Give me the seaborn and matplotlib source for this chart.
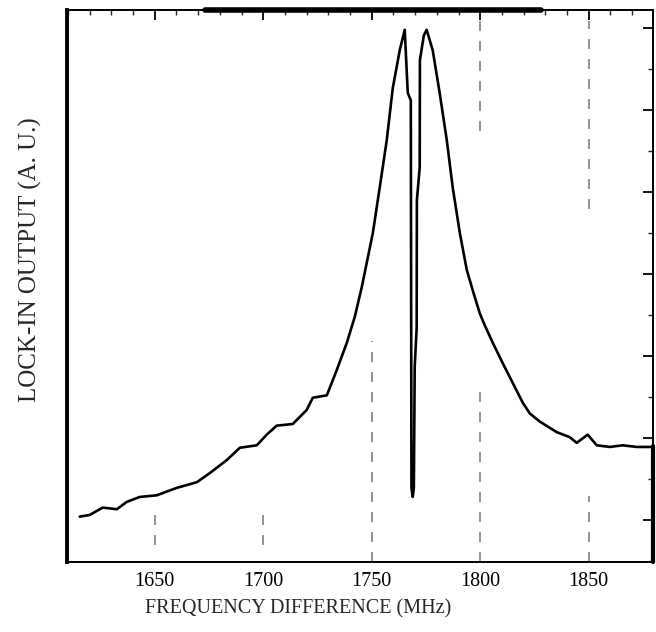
import numpy as np
import pandas as pd
import matplotlib
matplotlib.use("Agg")
import matplotlib.pyplot as plt
import seaborn as sns
from matplotlib.ticker import MultipleLocator

# ---- data (frequency in MHz, lock-in output in arbitrary units)
freq = [1615.4, 1620.0, 1626.0, 1632.5, 1637.1, 1643.1, 1650.9, 1660.1, 1669.4, 1675.3,
        1683.2, 1689.2, 1697.0, 1701.6, 1706.2, 1713.6, 1720.0, 1722.8, 1729.3, 1733.9,
        1738.5, 1742.2, 1745.4, 1750.5, 1753.7, 1756.9, 1759.7, 1762.9, 1765.2,
        1766.6, 1768.0, 1768.3, 1768.9, 1769.4, 1769.8, 1770.7, 1770.8, 1772.1, 1772.2,
        1774.0, 1775.3,
        1778.1, 1781.3, 1784.6, 1787.3, 1790.6, 1793.8, 1797.0, 1799.8, 1802.0, 1805.8,
        1810.4, 1815.0, 1819.6, 1822.8, 1827.4, 1835.3, 1841.2, 1844.5, 1849.5, 1853.7,
        1859.7, 1865.7, 1872.1, 1879.0]
signal = [1.04, 1.06, 1.15, 1.13, 1.22, 1.28, 1.30, 1.39, 1.46, 1.57,
          1.73, 1.88, 1.91, 2.04, 2.15, 2.17, 2.34, 2.49, 2.52, 2.83,
          3.16, 3.48, 3.84, 4.50, 5.06, 5.63, 6.27, 6.73, 6.98,
          6.21, 6.12, 1.39, 1.28, 1.39, 2.87, 3.34, 4.90, 5.30, 6.61,
          6.91, 6.98,
          6.73, 6.21, 5.63, 5.06, 4.50, 4.05, 3.76, 3.52, 3.38, 3.16,
          2.91, 2.67, 2.43, 2.30, 2.20, 2.07, 2.01, 1.94, 2.04, 1.91,
          1.89, 1.91, 1.89, 1.89]

xticks = [1650, 1700, 1750, 1800, 1850]
xticklabels = ["1650", "1700", "1750", "1800", "1850"]
xlabel = "FREQUENCY DIFFERENCE (MHz)"
ylabel = "LOCK-IN OUTPUT (A. U.)"

df = pd.DataFrame({"freq": freq, "signal": signal})

sns.set_theme(style="white")
plt.rcParams["font.family"] = ["Liberation Serif", "DejaVu Serif"]

fig = plt.figure(figsize=(6.56, 6.32), dpi=100)
ax = fig.add_axes([0.102, 0.111, 0.893, 0.873])

sns.lineplot(data=df, x="freq", y="signal", ax=ax, color="black",
             linewidth=1.9, estimator=None, sort=False)

ax.set_xlim(1609.5, 1879.5)
ax.set_ylim(0.488, 7.22)

# faint dashed vertical guide lines (scan residue)
for xv, (y0, y1) in [(1750, (0.0, 0.40)), (1800, (0.0, 0.32)), (1800, (0.78, 0.98)),
                     (1850, (0.0, 0.12)), (1850, (0.64, 0.98)),
                     (1650, (0.03, 0.09)), (1700, (0.03, 0.09))]:
    ax.axvline(xv, ymin=y0, ymax=y1, color="0.5", lw=1.2, ls=(0, (6, 6)), zorder=0)

ax.set_xticks(xticks)
ax.set_xticklabels(xticklabels)
ax.xaxis.set_minor_locator(MultipleLocator(10))
ax.yaxis.set_major_locator(MultipleLocator(1))
ax.yaxis.set_minor_locator(MultipleLocator(0.5))
ax.set_yticklabels([])

ax.tick_params(axis="both", which="major", direction="in", length=7, width=1.3,
               top=True, right=True, labelsize=14.5, colors="black", pad=7)
ax.tick_params(axis="both", which="minor", direction="in", length=3.5, width=1.0,
               top=True, right=True)
ax.tick_params(axis="y", which="both", labelleft=False)

for side, sp in ax.spines.items():
    sp.set_color("black")
    sp.set_linewidth(1.4)
ax.spines["left"].set_linewidth(2.8)

# heavier stretches of the frame seen in the scan
ax.axhline(7.22, xmin=0.235, xmax=0.81, color="black", lw=4, clip_on=False)
ax.axvline(1879.5, ymin=0.0, ymax=0.21, color="black", lw=3, clip_on=False)

ax.set_xlabel(xlabel, fontsize=14.5)
ax.xaxis.set_label_coords(0.394, -0.068)
ax.set_ylabel(ylabel, fontsize=18)
ax.yaxis.set_label_coords(-0.043, 0.547)

fig.savefig("out.png", dpi=100)
